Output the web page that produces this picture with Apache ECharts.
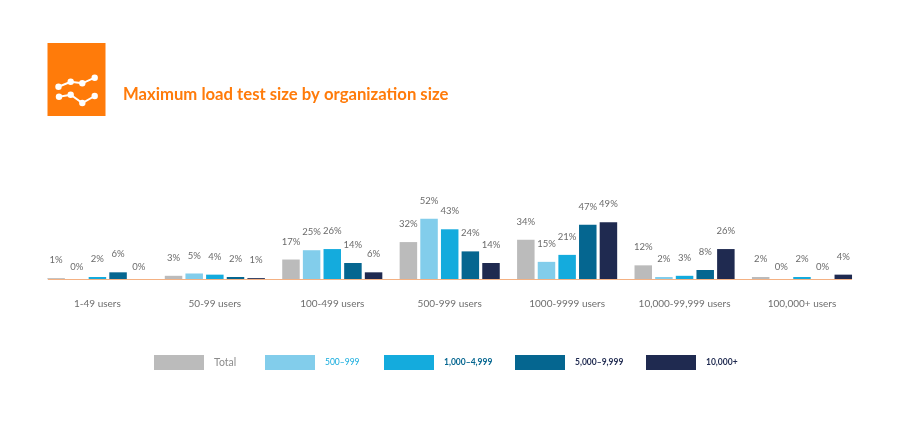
<!DOCTYPE html>
<html>
<head>
<meta charset="utf-8">
<style>html,body{margin:0;padding:0;background:#fff}#main{width:900px;height:426px}</style>
<script src="https://cdn.jsdelivr.net/npm/echarts@6/dist/echarts.min.js"></script>
</head>
<body>
<div id="main"></div>
<script>
var categories = ['1-49 users', '50-99 users', '100-499 users', '500-999 users', '1000-9999 users', '10,000-99,999 users', '100,000+ users'];
var total = [1, 3, 17, 32, 34, 12, 2];
var s500 = [0, 5, 25, 52, 15, 2, 0];
var s1000 = [2, 4, 26, 43, 21, 3, 2];
var s5000 = [6, 2, 14, 24, 47, 8, 0];
var s10000 = [0, 1, 6, 14, 49, 26, 4];
var names = ['Total', '500–999', '1,000–4,999', '5,000–9,999', '10,000+'];
var values = [total, s500, s1000, s5000, s10000];
var colors = ['#bbbbbb', '#82cdeb', '#14abdd', '#056690', '#1f2a50'];
var legendColors = ['#8c8c8c', '#14abdd', '#056690', '#1f2a50', '#1f2a50'];
var legendLeft = [154, 265, 384, 515, 646];

var chart = echarts.init(document.getElementById('main'));

function barData(list) {
	return list.map(function(v) {
		// zero bars have their label sitting closer to the axis
		return { value: v, label: { distance: v === 0 ? 7 : 13 } };
	});
}

var option = {
	animation: false,
	backgroundColor: '#fff',
	title: {
		text: 'Maximum load test size by organization size',
		left: 123,
		top: 86,
		padding: 0,
		textStyle: { color: '#ff7b0a', fontFamily: 'Lato', fontWeight: 'bold', fontSize: 16.7 }
	},
	legend: names.map(function(n, i) {
		return {
			data: [n],
			left: legendLeft[i],
			top: 355,
			padding: 0,
			itemWidth: 50,
			itemHeight: 15,
			itemGap: 0,
			icon: 'rect',
			selectedMode: false,
			textStyle: {
				color: legendColors[i],
				fontFamily: 'Lato',
				fontSize: i === 0 ? 10.5 : 8.5,
				fontWeight: i < 2 ? 'normal' : 'bold',
				padding: [1, 0, 0, 5]
			}
		};
	}),
	grid: { left: 38.7, width: 822, top: 163, height: 116.3 },
	xAxis: {
		type: 'category',
		data: categories,
		axisLine: { show: false },
		axisTick: { show: false },
		axisLabel: { color: '#6e6e6e', fontFamily: 'Lato', fontSize: 10, margin: 19, interval: 0 }
	},
	yAxis: { type: 'value', min: 0, max: 100, show: false },
	series: names.map(function(n, i) {
		return {
			name: n,
			type: 'bar',
			data: barData(values[i]),
			barWidth: 17.5,
			barGap: '18%',
			itemStyle: { color: colors[i] },
			label: {
				show: true,
				position: 'top',
				formatter: '{c}%',
				color: '#6b6b6b',
				fontFamily: 'Lato',
				fontSize: 9.5
			}
		};
	}),
	graphic: [
		// baseline only spans the bars, not the whole category band
		{ type: 'line', shape: { x1: 48, y1: 279.5, x2: 852, y2: 279.5 }, style: { stroke: '#f4b183', lineWidth: 1 }, z: 10 },
		{ type: 'rect', shape: { x: 47.5, y: 43, width: 58, height: 73 }, style: { fill: '#ff7b0a' } },
		{ type: 'polyline', shape: { points: [[58.5, 86.7], [70.7, 81.7], [82.3, 83.3], [94.7, 77.7]] }, style: { stroke: '#fff', fill: null, lineWidth: 2 } },
		{ type: 'polyline', shape: { points: [[59, 96.7], [70.7, 94.7], [82.3, 103], [94.7, 96]] }, style: { stroke: '#fff', fill: null, lineWidth: 2 } }
	].concat([[58.5, 86.7], [70.7, 81.7], [82.3, 83.3], [94.7, 77.7], [59, 96.7], [70.7, 94.7], [82.3, 103], [94.7, 96]].map(function(p) {
		return { type: 'circle', shape: { cx: p[0], cy: p[1], r: 3.2 }, style: { fill: '#fff' } };
	}))
};
chart.setOption(option);
</script>
</body>
</html>
